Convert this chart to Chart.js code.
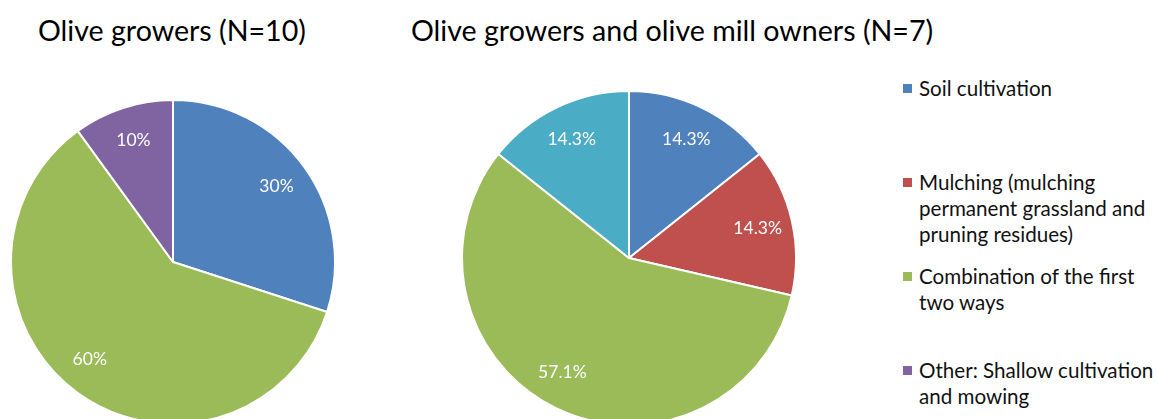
<!DOCTYPE html>
<html>
<head>
<meta charset="utf-8">
<script src="https://cdn.jsdelivr.net/npm/chart.js@4.4.1/dist/chart.umd.min.js"></script>
<style>
  html, body { margin: 0; padding: 0; background: #fff; }
  body { width: 1158px; height: 419px; overflow: hidden; position: relative; font-family: Lato, "Open Sans", sans-serif; color: #000; }
  .title { position: absolute; top: 13px; font-size: 28.6px; white-space: nowrap; }
  .pie { position: absolute; }
  #legend { position: absolute; left: 903px; top: 75px; font-size: 20.6px; line-height: 26px; color: #111; }
  #legend .item { height: 94px; position: relative; padding-left: 16px; }
  #legend .box { position: absolute; left: 0; top: 9px; width: 9px; height: 9px; }
</style>
</head>
<body>
<div class="title" style="left:38px">Olive growers (N=10)</div>
<div class="title" style="left:411px">Olive growers and olive mill owners (N=7)</div>
<div class="pie" style="left:10px;top:99px;width:326px;height:326px"><canvas id="pieGrowers"></canvas></div>
<div class="pie" style="left:461px;top:90px;width:336px;height:336px"><canvas id="pieMill"></canvas></div>
<div id="legend"></div>

<script>
// categories (the fifth, teal one is not visible in the legend of the picture)
var categories = [
    'Soil cultivation',
    'Mulching (mulching permanent grassland and pruning residues)',
    'Combination of the first two ways',
    'Other: Shallow cultivation and mowing',
    ''
];
var legendLines = [
    ['Soil cultivation'],
    ['Mulching (mulching', 'permanent grassland and', 'pruning residues)'],
    ['Combination of the first', 'two ways'],
    ['Other: Shallow cultivation', 'and mowing']
];
var colors = ['#4F81BD', '#C0504D', '#9BBB59', '#8064A2', '#4BACC6'];

// percentages
var growersPct = [30, 0, 60, 10, 0];
var millPct = [14.3, 14.3, 57.1, 0, 14.3];

// draws the % labels inside the slices
var pctLabels = {
    id: 'pctLabels',
    afterDatasetsDraw: function (chart) {
        var ctx = chart.ctx;
        var meta = chart.getDatasetMeta(0);
        var values = chart.data.datasets[0].data;
        ctx.save();
        ctx.font = '17.5px Lato, "Open Sans", sans-serif';
        ctx.fillStyle = '#ffffff';
        ctx.textAlign = 'center';
        ctx.textBaseline = 'middle';
        meta.data.forEach(function (arc, i) {
            if (!values[i]) return;
            var p = arc.getProps(['x', 'y', 'startAngle', 'endAngle', 'outerRadius'], true);
            var mid = (p.startAngle + p.endAngle) / 2;
            var r = p.outerRadius * 0.79;
            // the big green slice label sits a bit further round in the original
            if (values[i] > 50) mid += 0.08;
            ctx.fillText(values[i] + '%', p.x + Math.cos(mid) * r, p.y + Math.sin(mid) * r);
        });
        ctx.restore();
    }
};

function makePie(id, values) {
    return new Chart(document.getElementById(id), {
        type: 'pie',
        data: {
            labels: categories,
            datasets: [{
                data: values,
                backgroundColor: colors,
                borderColor: '#ffffff',
                borderWidth: 2
            }]
        },
        options: {
            responsive: true,
            maintainAspectRatio: false,
            animation: false,
            layout: { padding: 0 },
            plugins: {
                legend: { display: false },
                tooltip: { enabled: false }
            }
        },
        plugins: [pctLabels]
    });
}

makePie('pieGrowers', growersPct);
makePie('pieMill', millPct);

// legend on the right
var legend = document.getElementById('legend');
for (var i = 0; i < legendLines.length; i++) {
    legend.innerHTML += '<div class="item"><span class="box" style="background:' + colors[i] + '"></span>' +
        legendLines[i].join('<br>') + '</div>';
}
</script>
</body>
</html>
